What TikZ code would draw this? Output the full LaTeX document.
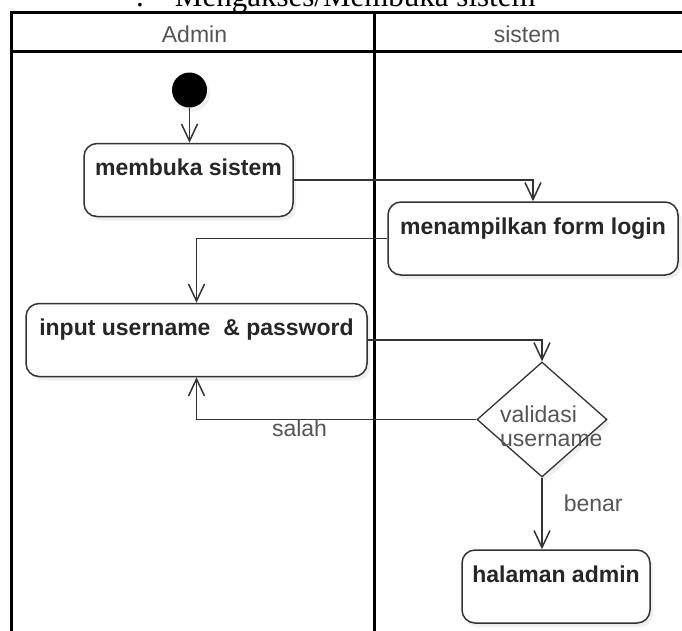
\documentclass[tikz,border=0pt]{standalone}
\usepackage{fontspec}
\setmainfont{Liberation Sans}
\newfontfamily\titlefont{Liberation Serif}
\usetikzlibrary{shapes}
\usetikzlibrary{shapes.geometric}
\usetikzlibrary{positioning}
\usetikzlibrary{arrows.meta}
\usetikzlibrary{shadows}
\definecolor{lineg}{HTML}{333333}
\definecolor{textg}{HTML}{555555}
\tikzset{
    actnode/.style = {rectangle, rounded corners=13pt, line width=1.5pt, draw=lineg, fill=white, align=center, font=\fontsize{23}{26}\selectfont\bfseries, text=black!85, text height=32pt, text depth=41pt, inner xsep=0pt, inner ysep=0pt, drop shadow={shadow xshift=3pt,shadow yshift=-4pt,opacity=0.12}},
    decnode/.style = {diamond, line width=1.3pt, draw=lineg, fill=white, inner sep=0pt, minimum width=130pt, minimum height=115pt, drop shadow={shadow xshift=3pt,shadow yshift=-4pt,opacity=0.12}},
    startnode/.style = {circle, fill=black, inner sep=0pt, minimum size=35pt, drop shadow={shadow xshift=3pt,shadow yshift=-4pt,opacity=0.12}},
    lanetext/.style = {font=\fontsize{23}{26}\selectfont, text=textg, inner sep=0pt},
    grtext/.style = {font=\fontsize{23}{24}\selectfont, text=textg, inner sep=0pt},
    titletext/.style = {font=\titlefont\fontsize{31}{36}\selectfont, text=black, inner sep=0pt},
    edgen/.style = {-{Straight Barb[length=17pt,width=16pt]}, line width=1.5pt, lineg},
    lane/.style = {line width=3pt, black}
}
\begin{document}
\begin{tikzpicture}[x=1pt,y=-1pt]
  \useasboundingbox (0,0) rectangle (682,630);
  \clip (0,0) rectangle (682,630);
  \fill[white] (0,0) rectangle (682,630);
  % judul
  \node[titletext, anchor=base west] (judul) at (136,6) {.\hspace{31pt}Mengakses/Membuka sistem};
  % swimlane
  \draw[lane] (11.5,700) -- (11.5,12.5) -- (720,12.5);
  \draw[lane] (11.5,51.5) -- (720,51.5);
  \draw[lane] (374.5,12.5) -- (374.5,700);
  \node[lanetext, anchor=base] (admin) at (194.5,42) {Admin};
  \node[lanetext, anchor=base] (sistem) at (527,42) {sistem};
  % aktivitas
  \node[startnode] (mulai) at (189.5,90) {};
  \node[actnode, minimum width=209pt] (membuka) at (188.5,180) {membuka sistem};
  \node[actnode, minimum width=290pt] (tampil) at (533,238.5) {menampilkan form login};
  \node[actnode, minimum width=341pt] (input) at (196.5,340) {input username~~\& password};
  \node[decnode] (valid) at (542,419.5) {};
  \node[grtext, anchor=west, align=left] (validtxt) at (500,426) {validasi\\username};
  \node[actnode, minimum width=188pt] (halaman) at (556,586.5) {halaman admin};
  % alur
  \draw[edgen] (mulai) -- (mulai |- membuka.north);
  \draw[edgen] (membuka.east) -| (tampil.north);
  \draw[edgen] (tampil.west) -| (input.north);
  \draw[edgen] (input.east) -| (valid.north);
  \draw[edgen] (valid.west) -| node[grtext, pos=0.316, anchor=north] (salah) {salah} (input.south);
  \draw[edgen] (valid.south) -- node[grtext, pos=0.36, anchor=west, xshift=21pt] (benar) {benar} (valid.south |- halaman.north);
\end{tikzpicture}
\end{document}
